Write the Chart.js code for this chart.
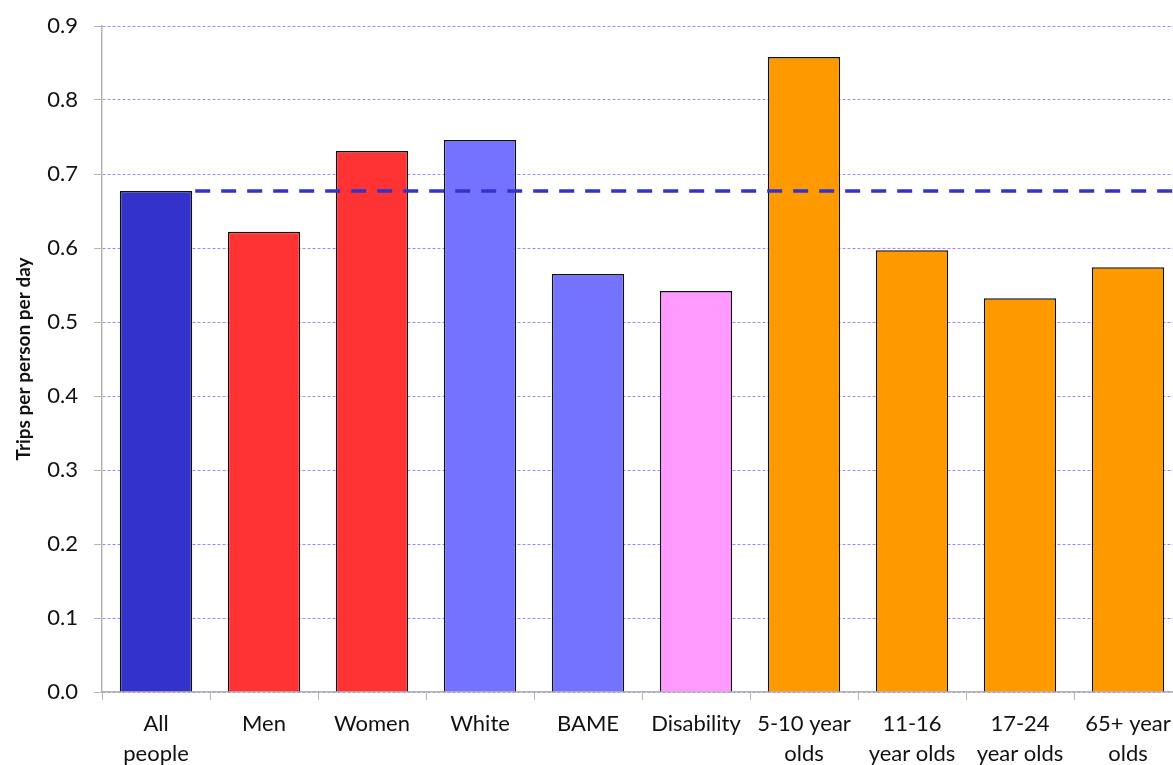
<!DOCTYPE html>
<html>
<head>
    <title>Trips per person per day</title>
    <script src="https://cdn.jsdelivr.net/npm/chart.js"></script>
    <style>
        html, body { margin: 0; padding: 0; overflow: hidden; background: #fff; }
        #grafico { display: block; }
    </style>
</head>
<body>
    <canvas id="grafico" width="1186" height="765"></canvas>

    <script>
        // dados
        const categorias = [
            ['All', 'people'], 'Men', 'Women', 'White', 'BAME', 'Disability',
            ['5-10 year', 'olds'], ['11-16', 'year olds'], ['17-24', 'year olds'], ['65+ year', 'olds']
        ];
        const viagens = [0.677, 0.622, 0.731, 0.746, 0.565, 0.542, 0.858, 0.597, 0.532, 0.574];
        const cores = ['#3333cc', '#ff3333', '#ff3333', '#7373ff', '#7373ff', '#ff99ff',
                       '#ff9900', '#ff9900', '#ff9900', '#ff9900'];
        const mediaTodos = 0.677; // linha tracejada (All people)
        const ticksY = [0, 0.1, 0.2, 0.3, 0.4, 0.5, 0.6, 0.7, 0.8, 0.9];

        const fonte = 'Lato, "DejaVu Sans", sans-serif';

        // desenha a linha da média a partir da primeira barra até o fim da área
        const linhaMedia = {
            id: 'linhaMedia',
            afterDatasetsDraw(chart) {
                const ctx = chart.ctx;
                const y = chart.scales.y.getPixelForValue(mediaTodos);
                const barra = chart.getDatasetMeta(0).data[0];
                const inicio = barra.x + barra.width / 2 + 3;
                ctx.save();
                ctx.strokeStyle = '#3333cc';
                ctx.lineWidth = 3.5;
                ctx.setLineDash([15, 11]);
                ctx.beginPath();
                ctx.moveTo(inicio, y);
                ctx.lineTo(chart.chartArea.right, y);
                ctx.stroke();
                ctx.restore();
            }
        };

        const ctx = document.getElementById('grafico').getContext('2d');
        new Chart(ctx, {
            type: 'bar',
            data: {
                labels: categorias,
                datasets: [{
                    data: viagens,
                    backgroundColor: cores,
                    borderColor: '#111',
                    borderWidth: 1.5,
                    categoryPercentage: 1,
                    barPercentage: 0.67
                }]
            },
            plugins: [linhaMedia],
            options: {
                responsive: false,
                animation: false,
                layout: { padding: { top: 26, right: 4, left: 0, bottom: 0 } },
                plugins: {
                    legend: { display: false },
                    tooltip: { enabled: false }
                },
                scales: {
                    x: {
                        afterFit(scale) { scale.height = 73; },
                        grid: {
                            offset: true,
                            drawOnChartArea: false,
                            drawTicks: true,
                            tickLength: 8,
                            color: '#b4b4b4'
                        },
                        border: { display: true, color: '#b4b4b4', width: 1.5 },
                        ticks: {
                            color: '#111',
                            padding: 9,
                            maxRotation: 0,
                            autoSkip: false,
                            font: { family: fonte, size: 22, lineHeight: 1.36 }
                        }
                    },
                    y: {
                        min: 0,
                        max: 0.9,
                        afterFit(scale) { scale.width = 102; },
                        afterBuildTicks(scale) {
                            scale.ticks = ticksY.map(v => ({ value: v }));
                        },
                        grid: {
                            color: '#a585ff',
                            lineWidth: 1,
                            drawTicks: true,
                            tickLength: 8,
                            tickColor: '#b4b4b4'
                        },
                        border: { display: true, color: '#b4b4b4', width: 1.5, dash: [3, 2] },
                        ticks: {
                            color: '#111',
                            padding: 16,
                            font: { family: fonte, size: 22, lineHeight: 0.8 },
                            callback: (v) => Number(v).toFixed(1)
                        },
                        title: {
                            display: true,
                            text: 'Trips per person per day',
                            color: '#111',
                            padding: { top: 12, bottom: 0 },
                            font: { family: fonte, size: 19, weight: 'bold' }
                        }
                    }
                }
            }
        });
    </script>
</body>
</html>
